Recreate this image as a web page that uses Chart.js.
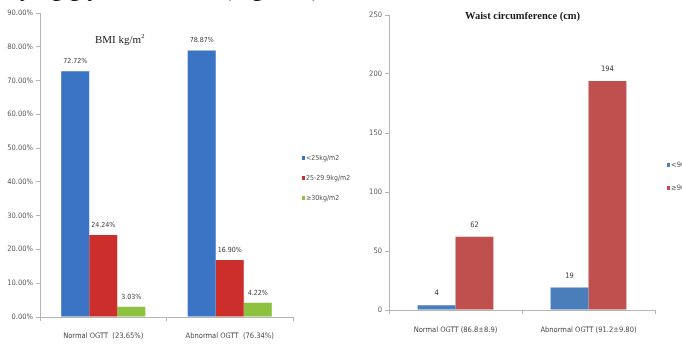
<!DOCTYPE html>
<html>
<head>
<meta charset="utf-8">
<script src="https://cdn.jsdelivr.net/npm/chart.js@4.4.1/dist/chart.umd.min.js"></script>
<style>
body { margin:0; background:#fff; width:682px; height:345px; overflow:hidden; position:relative; }
canvas { position:absolute; top:0; }
#bmiChart { left:0; }
#waistChart { left:340px; }
.ttl { position:absolute; white-space:nowrap; color:#1a1a1a; font-family:'Liberation Serif','DejaVu Serif',serif; }
#cutLine { position:absolute; right:362px; top:-24px; font:24px/24px 'Liberation Serif',serif; color:#111; white-space:nowrap; }
</style>
</head>
<body>
<div id="cutLine">underlying glycemic status (Figure 1)</div>
<canvas id="bmiChart" width="360" height="345"></canvas>
<canvas id="waistChart" width="342" height="345"></canvas>
<div class="ttl" style="left:95px;top:32px;font-size:11px;">BMI kg/m<sup style="font-size:6.5px">2</sup></div>
<div class="ttl" style="left:465px;top:10px;font-size:10.5px;font-weight:bold;">Waist circumference (cm)</div>
<script>
// --- DATA ---
const bmiGroups = ['Normal OGTT  (23.65%)', 'Abnormal OGTT  (76.34%)'];
const bmiSeries = ['<25kg/m2', '25-29.9kg/m2', '\u226530kg/m2'];
const bmiUnder25 = [72.72, 78.87];
const bmi25to30 = [24.24, 16.90];
const bmiOver30 = [3.03, 4.22];
const bmiTicks = [0, 10, 20, 30, 40, 50, 60, 70, 80, 90];

const waistGroups = ['Normal OGTT (86.8\u00b18.9)', 'Abnormal OGTT (91.2\u00b19.80)'];
const waistSeries = ['<90cm', '\u226590cm'];
const waistUnder90 = [4, 19];
const waistOver90 = [62, 194];
const waistTicks = [0, 50, 100, 150, 200, 250];

const tickFont = "'Liberation Sans Narrow','DejaVu Sans Condensed','Liberation Sans',sans-serif";

// value labels drawn on top of each bar
const barLabels = {
    id: 'barLabels',
    afterDatasetsDraw(chart, args, opts) {
        const ctx = chart.ctx;
        ctx.save();
        ctx.font = opts.size + 'px ' + tickFont;
        ctx.fillStyle = '#3a3a3a';
        ctx.textAlign = 'center';
        ctx.textBaseline = 'middle';
        chart.data.datasets.forEach((ds, i) => {
            chart.getDatasetMeta(i).data.forEach((bar, j) => {
                ctx.fillText(opts.format(ds.data[j]), bar.x, bar.y - opts.offset);
            });
        });
        ctx.restore();
    }
};

// small legend to the right, like the office chart
const sideLegend = {
    id: 'sideLegend',
    afterDraw(chart, args, opts) {
        const ctx = chart.ctx;
        ctx.save();
        ctx.font = opts.size + 'px ' + tickFont;
        ctx.textBaseline = 'middle';
        ctx.textAlign = 'left';
        chart.data.datasets.forEach((ds, i) => {
            const y = opts.y + i * opts.gap;
            ctx.fillStyle = ds.backgroundColor;
            ctx.fillRect(opts.x, y - 2, 3, 4);
            ctx.fillStyle = '#555';
            ctx.fillText(ds.label, opts.x + 4, y);
        });
        ctx.restore();
    }
};

function axisOpts(ticks, fmt, fontSize, width) {
    return {
        min: ticks[0],
        max: ticks[ticks.length - 1],
        afterBuildTicks: s => { s.ticks = ticks.map(v => ({ value: v })); },
        afterFit: s => { s.width = width; },
        grid: { drawOnChartArea: false, tickLength: 4, color: '#b5b5b5' },
        border: { color: '#b5b5b5' },
        ticks: { padding: 3, color: '#5a5a5a', font: { size: fontSize, family: tickFont }, callback: fmt }
    };
}

function xOpts(height, pad, fontSize) {
    return {
        afterFit: s => { s.height = height; },
        grid: { drawOnChartArea: false, tickLength: 4, color: '#b5b5b5', offset: true },
        border: { color: '#b5b5b5' },
        ticks: { padding: pad, color: '#4a4a4a', maxRotation: 0, font: { size: fontSize, family: tickFont } }
    };
}

// --- BMI CHART ---
new Chart(document.getElementById('bmiChart'), {
    type: 'bar',
    data: {
        labels: bmiGroups,
        datasets: [
            { label: bmiSeries[0], data: bmiUnder25, backgroundColor: '#3b74c4' },
            { label: bmiSeries[1], data: bmi25to30, backgroundColor: '#cc2f2b' },
            { label: bmiSeries[2], data: bmiOver30, backgroundColor: '#8cc23f' }
        ]
    },
    options: {
        responsive: false,
        animation: false,
        devicePixelRatio: 1,
        layout: { padding: { top: 13, right: 67, bottom: 0, left: 0 } },
        datasets: { bar: { categoryPercentage: 0.665, barPercentage: 1 } },
        scales: {
            x: xOpts(28, 11, 7.5),
            y: axisOpts(bmiTicks, v => v.toFixed(2) + '%', 7.5, 40)
        },
        plugins: {
            legend: { display: false },
            tooltip: { enabled: false },
            barLabels: { size: 7, offset: 10, format: v => v.toFixed(2) + '%' },
            sideLegend: { x: 302, y: 158, gap: 20, size: 7 }
        }
    },
    plugins: [barLabels, sideLegend]
});

// --- WAIST CHART ---
new Chart(document.getElementById('waistChart'), {
    type: 'bar',
    data: {
        labels: waistGroups,
        datasets: [
            { label: waistSeries[0], data: waistUnder90, backgroundColor: '#4a7ebb' },
            { label: waistSeries[1], data: waistOver90, backgroundColor: '#c0504d' }
        ]
    },
    options: {
        responsive: false,
        animation: false,
        devicePixelRatio: 1,
        layout: { padding: { top: 15, right: 27, bottom: 0, left: 0 } },
        datasets: { bar: { categoryPercentage: 0.57, barPercentage: 1 } },
        scales: {
            x: xOpts(35, 12, 7.5),
            y: axisOpts(waistTicks, v => v, 7.5, 49)
        },
        plugins: {
            legend: { display: false },
            tooltip: { enabled: false },
            barLabels: { size: 7.5, offset: 12, format: v => String(v) },
            sideLegend: { x: 327, y: 165, gap: 23, size: 7.5 }
        }
    },
    plugins: [barLabels, sideLegend]
});
</script>
</body>
</html>
